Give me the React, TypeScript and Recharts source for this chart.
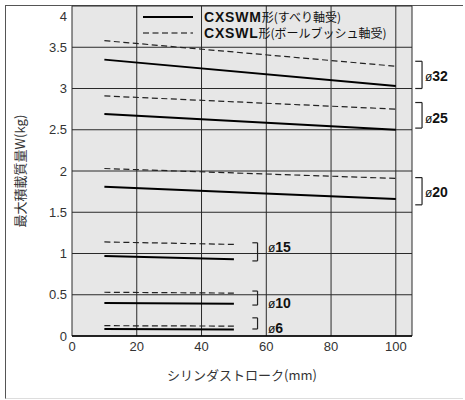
import { LineChart, Line, XAxis, YAxis, CartesianGrid, ReferenceLine, ReferenceDot } from "recharts";

// axis ticks
const strokeTicks = [0, 20, 40, 60, 80, 100];
const loadTicks = [0, 0.5, 1, 1.5, 2, 2.5, 3, 3.5, 4];

// bore sizes and their stroke ranges (mm)
const boreSizes = ["32", "25", "20", "15", "10", "6"];
const strokeStart = [10, 10, 10, 10, 10, 10];
const strokeEnd = [100, 100, 100, 50, 50, 50];

// max load W (kg) at start / end of the stroke range
const cxswmStart = [3.35, 2.69, 1.81, 0.97, 0.4, 0.085];
const cxswmEnd = [3.03, 2.5, 1.66, 0.93, 0.39, 0.08];
const cxswlStart = [3.58, 2.91, 2.03, 1.14, 0.53, 0.125];
const cxswlEnd = [3.27, 2.75, 1.91, 1.11, 0.52, 0.12];

// bracket + size label next to each pair
const bracketTop = [3.33, 2.83, 1.92, 1.13, 0.545, 0.22];
const bracketBottom = [3.0, 2.52, 1.59, 0.91, 0.375, 0.085];
const bracketFrom = [106, 106, 106, 55.7, 55.7, 55.7];
const bracketTo = [108.1, 108.1, 108.1, 57.3, 57.3, 57.3];
const labelStroke = [109, 109, 109, 60.5, 60.5, 60.5];
const labelLoad = [3.16, 2.65, 1.755, 1.09, 0.41, 0.11];

const FONT = '"Liberation Sans", "Noto Sans CJK JP", sans-serif';
const JP = '"Noto Sans CJK JP", "Liberation Sans", sans-serif';

const series = boreSizes.map((size, i) => ({
  size,
  slide: [
    { stroke: strokeStart[i], load: cxswmStart[i] },
    { stroke: strokeEnd[i], load: cxswmEnd[i] },
  ],
  ball: [
    { stroke: strokeStart[i], load: cxswlStart[i] },
    { stroke: strokeEnd[i], load: cxswlEnd[i] },
  ],
}));

function YTick(props: any) {
  const { x, y, payload } = props;
  const shift = payload.value === 4 ? 7 : 0;
  return (
    <text x={x} y={y + shift} dy="0.35em" textAnchor="end" fontSize={13} fill="#333" fontFamily={FONT}>
      {payload.value}
    </text>
  );
}

function SizeLabel(text: string) {
  return (props: any) => (
    <text x={props.cx} y={props.cy} dy="0.35em" fontFamily={FONT} fill="#111">
      <tspan fontSize={12}>ø</tspan>
      <tspan fontSize={14} fontWeight="bold">{text}</tspan>
    </text>
  );
}

function LegendBox() {
  return (
    <svg width={465} height={400} style={{ position: "absolute", left: 0, top: 0, pointerEvents: "none" }}>
      <line x1={143} x2={193} y1={17} y2={17} stroke="#000" strokeWidth={2} />
      <line x1={143} x2={193} y1={33} y2={33} stroke="#000" strokeWidth={1.2} strokeDasharray="6 3.5" />
      <text x={204} y={22} fontFamily={JP} fontSize={12} fill="#111">
        <tspan fontFamily={FONT} fontWeight="bold" fontSize={14} letterSpacing={0.8}>CXSWM</tspan>
        <tspan>形(すべり軸受)</tspan>
      </text>
      <text x={204} y={38} fontFamily={JP} fontSize={12} fill="#111">
        <tspan fontFamily={FONT} fontWeight="bold" fontSize={14} letterSpacing={0.8}>CXSWL</tspan>
        <tspan>形(ボールブッシュ軸受)</tspan>
      </text>
    </svg>
  );
}

export default function App() {
  return (
    <div style={{ position: "absolute", left: 0, top: 0, width: 465, height: 400, background: "#fff" }}>
      <div
        style={{
          position: "absolute",
          left: 5,
          top: 5,
          width: 458,
          height: 394,
          borderTop: "1px solid #555",
          borderLeft: "1px solid #555",
          borderBottom: "1px solid #ddd",
          boxSizing: "border-box",
        }}
      />
      <div style={{ position: "absolute", left: 0, top: 0 }}>
        <LineChart width={465} height={400} margin={{ top: 6, right: 53, bottom: 0, left: 0 }}>
          <CartesianGrid stroke="#2a2a2a" fill="#e7e7e7" fillOpacity={1} />
          <XAxis
            type="number"
            dataKey="stroke"
            domain={[0, 105]}
            ticks={strokeTicks}
            height={64}
            tickSize={0}
            tickMargin={6}
            tickLine={false}
            axisLine={{ stroke: "#000", strokeWidth: 1.5 }}
            tick={{ fontSize: 13, fill: "#333", fontFamily: FONT }}
            label={{
              value: "シリンダストローク(mm)",
              position: "insideBottom",
              offset: 20,
              style: { fontSize: 13, fill: "#333", fontFamily: JP },
            }}
            allowDataOverflow
          />
          <YAxis
            type="number"
            domain={[0, 4]}
            ticks={loadTicks}
            width={72}
            tickSize={0}
            tickMargin={5}
            tickLine={false}
            axisLine={false}
            tick={<YTick />}
            label={{
              value: "最大積載質量W(kg)",
              angle: -90,
              position: "insideLeft",
              offset: 20,
              style: { textAnchor: "middle", fontSize: 13, fill: "#333", fontFamily: JP },
            }}
          />
          {series.map((s) => (
            <Line
              key={"m" + s.size}
              data={s.slide}
              dataKey="load"
              stroke="#000"
              strokeWidth={2}
              dot={false}
              isAnimationActive={false}
            />
          ))}
          {series.map((s) => (
            <Line
              key={"l" + s.size}
              data={s.ball}
              dataKey="load"
              stroke="#222"
              strokeWidth={1.2}
              strokeDasharray="6 3.5"
              dot={false}
              isAnimationActive={false}
            />
          ))}
          {boreSizes.map((size, i) => [
            <ReferenceLine
              key={"bt" + size}
              segment={[
                { x: bracketFrom[i], y: bracketTop[i] },
                { x: bracketTo[i], y: bracketTop[i] },
              ]}
              stroke="#222"
              strokeWidth={1.2}
              ifOverflow="visible"
            />,
            <ReferenceLine
              key={"bv" + size}
              segment={[
                { x: bracketTo[i], y: bracketTop[i] },
                { x: bracketTo[i], y: bracketBottom[i] },
              ]}
              stroke="#222"
              strokeWidth={1.2}
              ifOverflow="visible"
            />,
            <ReferenceLine
              key={"bb" + size}
              segment={[
                { x: bracketFrom[i], y: bracketBottom[i] },
                { x: bracketTo[i], y: bracketBottom[i] },
              ]}
              stroke="#222"
              strokeWidth={1.2}
              ifOverflow="visible"
            />,
            <ReferenceDot
              key={"lb" + size}
              x={labelStroke[i]}
              y={labelLoad[i]}
              r={0}
              ifOverflow="visible"
              shape={SizeLabel(size)}
            />,
          ])}
        </LineChart>
      </div>
      <LegendBox />
    </div>
  );
}
